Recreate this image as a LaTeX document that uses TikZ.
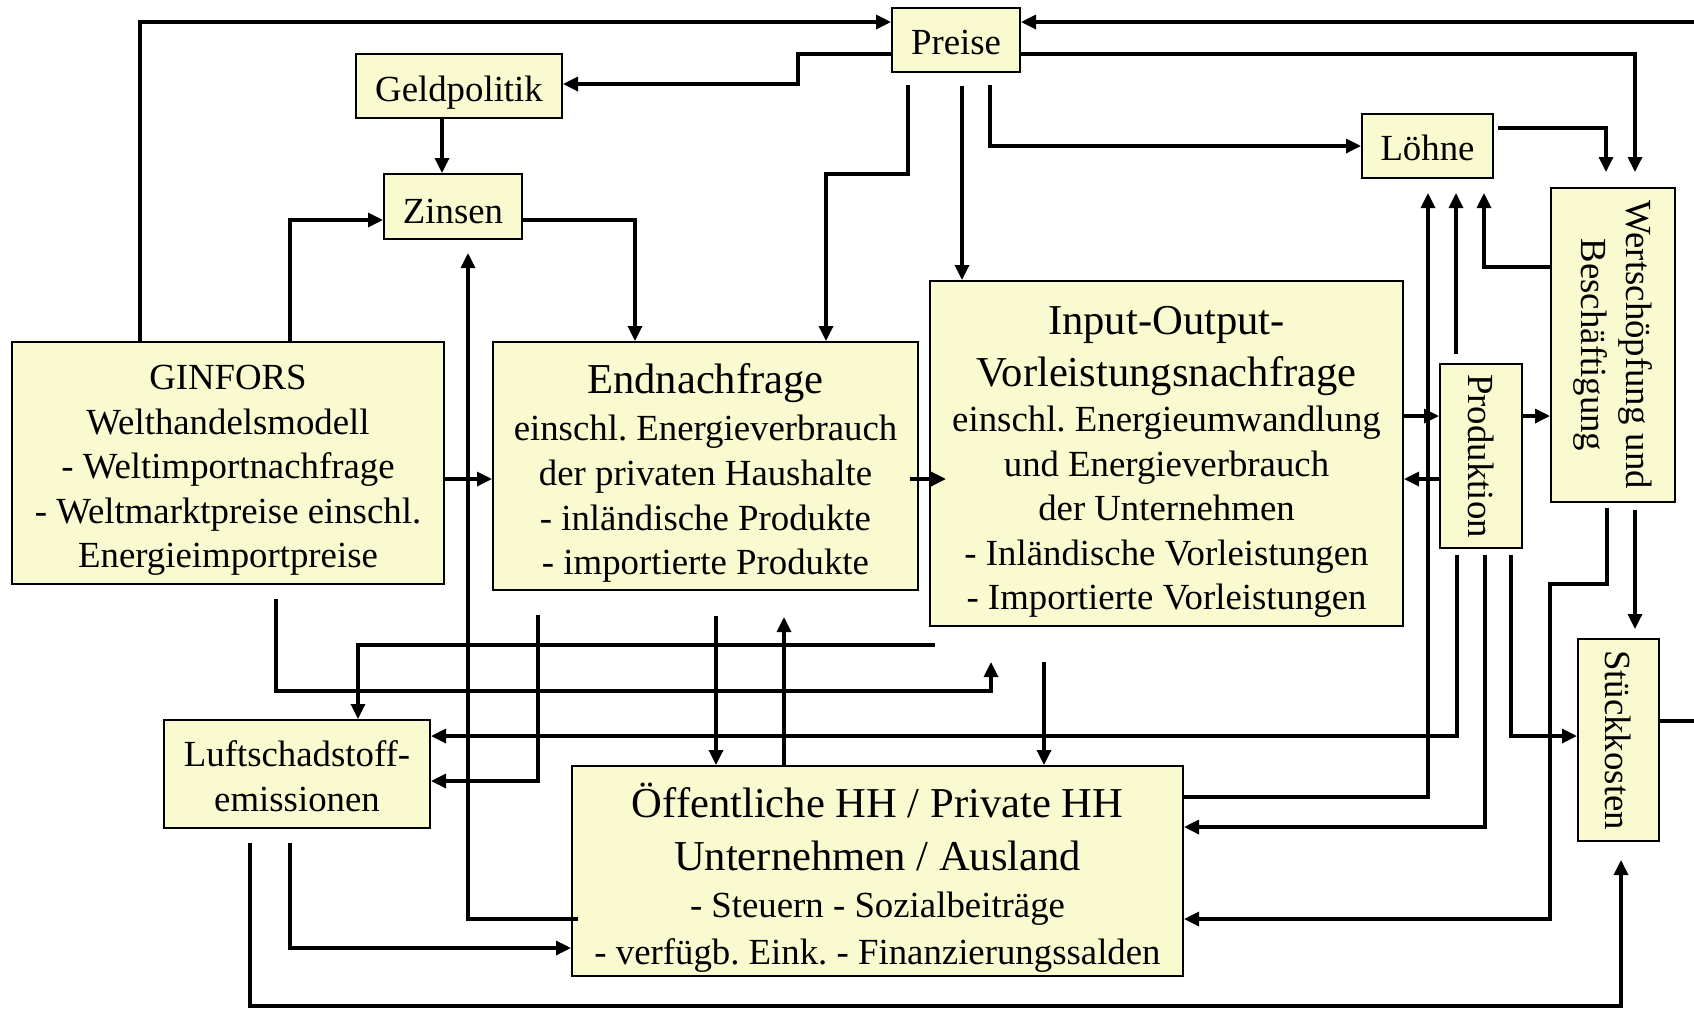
\documentclass[tikz,border=0pt]{standalone}
\usepackage{fontspec}
\setmainfont{Liberation Serif}
\usepackage{graphicx}
\usetikzlibrary{arrows.meta}
\frenchspacing
\definecolor{boxfill}{RGB}{250,250,208}
\newcommand{\bodyfont}{\fontsize{18.4}{22.3}\selectfont}
\newcommand{\headfont}{\fontsize{21.3}{26}\selectfont}
\newcommand{\strutup}[1]{\rule{0pt}{#1}}
\tikzset{
  box/.style={draw, line width=1pt, fill=boxfill, align=center, inner sep=0pt, font=\bodyfont},
  flow/.style={-{Triangle[length=7.5pt, width=7pt]}, line width=1.65pt},
  wire/.style={line width=1.65pt},
}
\begin{document}
\begin{tikzpicture}[x=0.5pt, y=-0.5pt]
      \useasboundingbox (0,0) rectangle (1694,1009);
      \node [box, minimum width=64pt, minimum height=32pt] (preise) at (956,40) {\strutup{14.8pt}Preise};
      \node [box, minimum width=103pt, minimum height=32pt] (geld) at (459,86) {\strutup{19.3pt}Geldpolitik};
      \node [box, minimum width=69pt, minimum height=32.5pt] (zins) at (453,206.5) {\strutup{17.2pt}Zinsen};
      \node [box, minimum width=65.5pt, minimum height=32pt] (loehne) at (1427.5,146) {\strutup{14.8pt}Löhne};
      \node [box, minimum width=62pt, minimum height=157pt] (wert) at (1613,345) {\rotatebox{-90}{\begin{tabular}{@{}c@{}}Wertschöpfung und\\Beschäftigung\end{tabular}}};
      \node [box, minimum width=216pt, minimum height=121pt] (gin) at (228,463) {\strutup{19.7pt}GINFORS\\Welthandelsmodell\\- Weltimportnachfrage\\- Weltmarktpreise einschl.\\Energieimportpreise};
      \node [box, minimum width=212.5pt, minimum height=124pt] (endn) at (705.5,466) {\strutup{22.2pt}{\headfont Endnachfrage}\\[1.2pt]einschl. Energieverbrauch\\der privaten Haushalte\\- inländische Produkte\\- importierte Produkte};
      \node [box, minimum width=236.5pt, minimum height=172.5pt] (io) at (1166.5,453.5) {\strutup{22.9pt}{\headfont Input-Output-}\\[3.7pt]{\headfont Vorleistungsnachfrage}\\einschl. Energieumwandlung\\und Energieverbrauch\\der Unternehmen\\- Inländische Vorleistungen\\- Importierte Vorleistungen};
      \node [box, minimum width=41pt, minimum height=92pt] (prod) at (1481,456) {\rotatebox{-90}{Produktion}};
      \node [box, minimum width=40.5pt, minimum height=101pt] (stk) at (1618.5,740) {\rotatebox{-90}{Stückkosten}};
      \node [box, minimum width=133pt, minimum height=54pt] (luft) at (297,774) {\strutup{15.3pt}Luftschadstoff-\\emissionen};
      \node [box, minimum width=305.5pt, minimum height=105pt] (oeff) at (877.5,871) {\strutup{24.2pt}{\headfont Öffentliche HH / Private HH}\\[4.2pt]{\headfont Unternehmen / Ausland}\\[1.2pt]- Steuern - Sozialbeiträge\\[1.2pt]- verfügb. Eink. - Finanzierungssalden};
      \coordinate (edgetop) at (1694,22);
      \coordinate (edgeright) at (1694,721);
      \coordinate (iofree) at (935,645);
      \draw [flow] (gin.north -| 140,0) |- (preise.west |- edgetop);
      \draw [flow] (edgetop) -- (preise.east |- edgetop);
      \draw [flow] (preise.west |- 0,54) -| (798,84) -- (geld.east |- 0,84);
      \draw [flow, shorten >=7.5pt] (preise.east |- 0,54) -| (wert.north -| 1635,0);
      \draw [flow] (geld.south -| 442,0) -- (zins.north -| 442,0);
      \draw [flow] (gin.north -| 290,0) |- (zins.west |- 0,220);
      \draw [flow] (zins.east |- 0,220) -| (endn.north -| 635,0);
      \draw [flow, shorten <=6pt] (preise.south -| 908,0) |- (826,174) -- (endn.north -| 826,0);
      \draw [flow, shorten <=6.5pt] (preise.south -| 962,0) -- (io.north -| 962,0);
      \draw [flow, shorten <=6pt] (preise.south -| 990,0) |- (loehne.west);
      \draw [flow, shorten <=2pt, shorten >=7.5pt] (loehne.east |- 0,128) -| (wert.north -| 1606,0);
      \draw [flow, shorten >=7pt] (oeff.east |- 0,797) -| (loehne.south -| 1428,0);
      \draw [flow, shorten <=4.5pt, shorten >=7pt] (prod.north -| 1456,0) -- (loehne.south -| 1456,0);
      \draw [flow, shorten >=7pt] (wert.west |- 0,267) -| (loehne.south -| 1484,0);
      \draw [flow] (io.east |- 0,416) -- (prod.west |- 0,416);
      \draw [flow] (prod.west |- 0,479) -- (io.east |- 0,479);
      \draw [flow] (prod.east |- 0,416) -- (wert.west |- 0,416);
      \draw [flow] (gin.east |- 0,479) -- (endn.west |- 0,479);
      \draw [flow, shorten <=-4.5pt, shorten >=-8.5pt] (endn.east |- 0,479) -- (io.west |- 0,479);
      \draw [flow, shorten <=3pt] (prod.south -| 1457,0) |- (luft.east |- 0,736);
      \draw [flow, shorten <=3pt] (prod.south -| 1485,0) |- (oeff.east |- 0,827);
      \draw [flow, shorten <=3pt] (prod.south -| 1511,0) |- (stk.west |- 0,736);
      \draw [flow, shorten <=2.5pt] (wert.south -| 1607,0) |- (1550,584) |- (oeff.east |- 0,919);
      \draw [flow, shorten <=3.5pt, shorten >=4.5pt] (wert.south -| 1635,0) -- (stk.north -| 1635,0);
      \draw [wire] (stk.east |- edgeright) -- (edgeright);
      \draw [flow, shorten <=7pt, shorten >=17.5pt] (gin.south -| 276,0) |- (991,691) -- (io.south -| 991,0);
      \draw [flow] (iofree) -| (luft.north -| 358,0);
      \draw [flow, shorten <=12pt] (endn.south -| 538,0) |- (luft.east |- 0,781);
      \draw [flow, shorten <=12.5pt] (endn.south -| 716,0) -- (oeff.north -| 716,0);
      \draw [flow, shorten >=13pt] (oeff.north -| 784,0) -- (endn.south -| 784,0);
      \draw [flow, shorten <=17.5pt] (io.south -| 1044,0) -- (oeff.north -| 1044,0);
      \draw [flow, shorten <=-3.5pt, shorten >=6.5pt] (oeff.west |- 0,919) -| (zins.south -| 468,0);
      \draw [flow, shorten <=7pt] (luft.south -| 290,0) |- (oeff.west |- 0,948);
      \draw [flow, shorten <=7pt, shorten >=9pt] (luft.south -| 250,0) |- (1621,1006) -- (stk.south -| 1621,0);
\end{tikzpicture}
\end{document}
